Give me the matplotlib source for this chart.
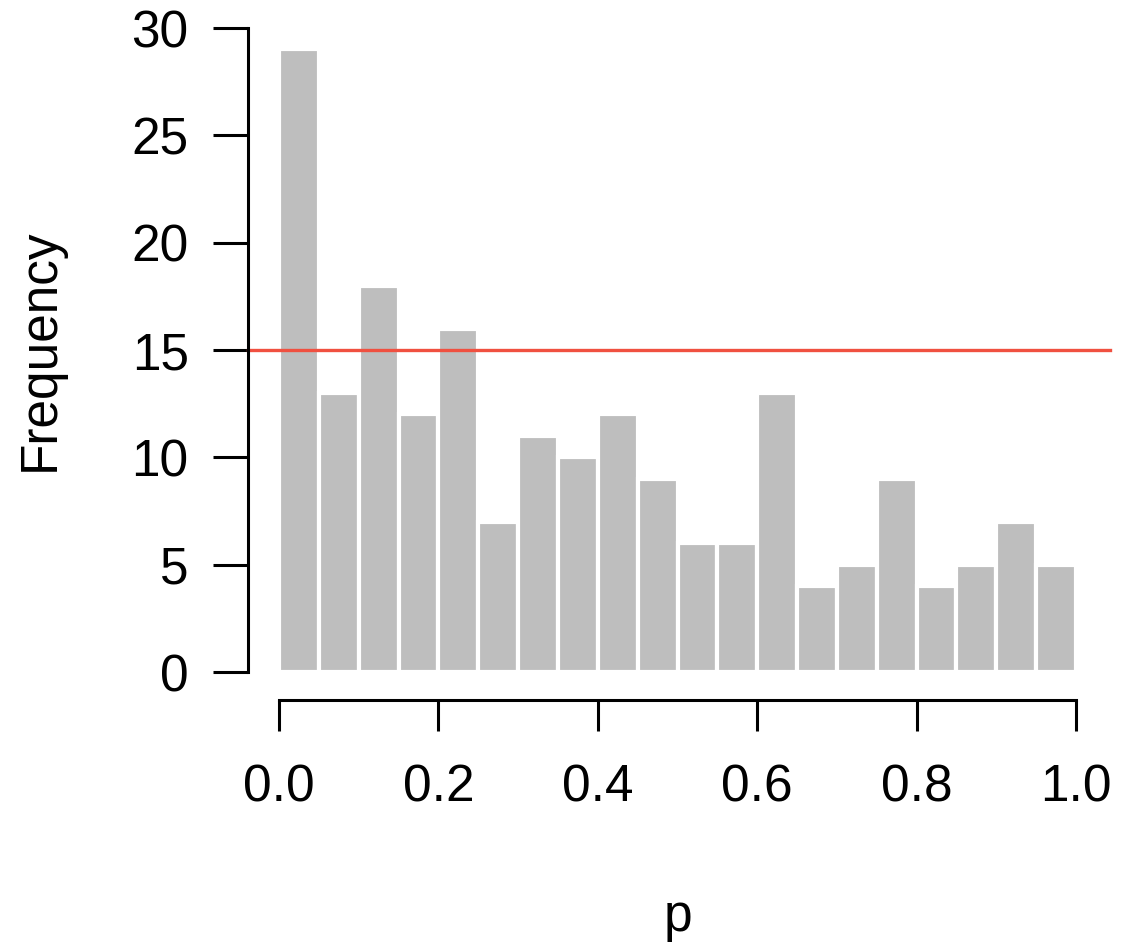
import matplotlib
matplotlib.use("Agg")
import matplotlib.pyplot as plt
import numpy as np

plt.rcParams['font.family'] = ['Liberation Sans', 'DejaVu Sans']

bin_edges = np.linspace(0, 1, 21)
counts = [29, 13, 18, 12, 16, 7, 11, 10, 12, 9, 6, 6, 13, 4, 5, 9, 4, 5, 7, 5]
ref_level = 15

W, H = 1129, 952
fig = plt.figure(figsize=(W/100, H/100), dpi=100)
ax = fig.add_axes([279/W, (H-672)/H, 797/W, 644/H])
ax.bar(bin_edges[:-1], counts, width=np.diff(bin_edges), align='edge',
       color='#bebebe', edgecolor='white', linewidth=3)
ax.set_xlim(0, 1)
ax.set_ylim(0, 30)
ax.axhline(ref_level, xmin=(248-279)/797, xmax=(1110-279)/797, color='#f05040', lw=2.4, clip_on=False)

for s in ['top', 'right']:
    ax.spines[s].set_visible(False)
ax.spines['left'].set_position(('outward', 22))
ax.spines['bottom'].set_position(('outward', 20))
ax.spines['left'].set_bounds(0, 30)
ax.spines['bottom'].set_bounds(0, 1)
for s in ['left', 'bottom']:
    ax.spines[s].set_linewidth(2.2)
ax.set_xticks(np.arange(0, 1.01, 0.2))
ax.set_xticklabels([f"{v:.1f}" for v in np.arange(0, 1.01, 0.2)])
ax.set_yticks(range(0, 31, 5))
ax.tick_params(labelsize=37, width=2.2)
ax.tick_params(axis='x', length=22, pad=24)
ax.tick_params(axis='y', length=25, pad=18)
ax.set_xlabel('p', fontsize=37, labelpad=58)
ax.set_ylabel('Frequency', fontsize=37, labelpad=48)
fig.savefig('out.png', dpi=100)
